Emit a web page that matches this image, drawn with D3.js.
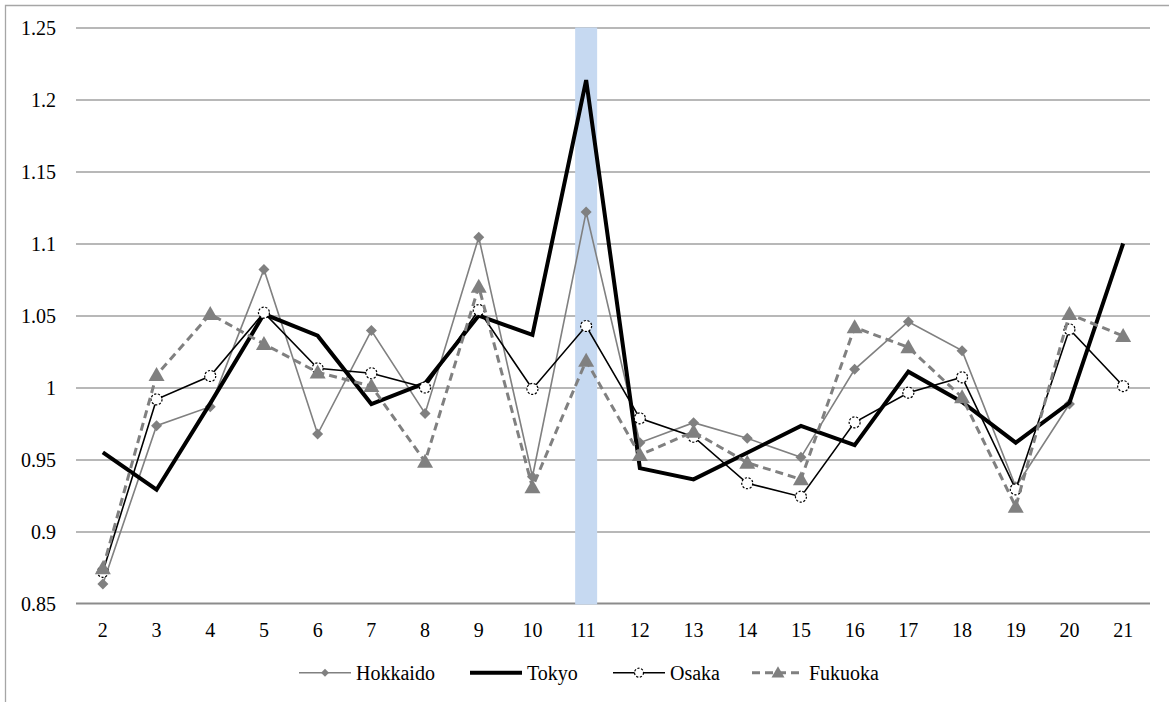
<!DOCTYPE html>
<html>
<head>
<meta charset="utf-8">
<script src="https://cdn.jsdelivr.net/npm/d3@7"></script>
<style>
  html, body { margin: 0; padding: 0; background: #fff; }
  svg { display: block; }
</style>
</head>
<body>
<svg id="chart" width="1169" height="702"></svg>
<script>
// ---- data ----
const categories = ["2","3","4","5","6","7","8","9","10","11","12","13","14","15","16","17","18","19","20","21"];
const hokkaido = [0.8635,0.9735,0.9867,1.082,0.9677,1.0395,0.982,1.1043,0.938,1.1219,0.9617,0.9756,0.9647,0.9515,1.0126,1.0457,1.0256,0.931,0.9885,null];
const tokyo    = [0.955,0.929,0.989,1.051,1.036,0.9885,1.003,1.050,1.0365,1.2135,0.944,0.9362,0.9547,0.9733,0.960,1.011,0.990,0.9617,0.9894,1.100];
const osaka    = [0.872,0.9918,1.008,1.052,1.0133,1.0099,1.000,1.0538,0.999,1.0427,0.9786,0.9658,0.9335,0.9242,0.9758,0.9964,1.0071,0.9293,1.0404,1.001];
const fukuoka  = [0.8744,1.0087,1.051,1.0302,1.0105,1.001,0.9485,1.070,0.9307,1.0186,0.9531,0.9693,0.9478,0.9362,1.0418,1.0279,0.9932,0.9172,1.051,1.0358];
const seriesNames = ["Hokkaido","Tokyo","Osaka","Fukuoka"];
const yTicks = [0.85,0.9,0.95,1,1.05,1.1,1.15,1.2,1.25];
const yTickLabels = ["0.85","0.9","0.95","1","1.05","1.1","1.15","1.2","1.25"];
const highlightCats = ["11"];

// ---- layout ----
const FONT = "Liberation Serif";
const svg = d3.select("#chart").attr("font-family", FONT).attr("font-size", 20);
const plotL = 76, plotR = 1150, plotT = 27.5, plotB = 603.5;

const x = d3.scaleBand().domain(categories).range([plotL, plotR]).padding(0);
const y = d3.scaleLinear().domain([0.85, 1.25]).range([plotB, plotT]);
const cx = c => x(c) + x.bandwidth() / 2;

// outer chart border (left and top visible)
svg.append("path")
  .attr("d", `M5.5,702 L5.5,5.5 L1169,5.5`)
  .attr("fill", "none").attr("stroke", "#a6a6a6").attr("stroke-width", 1.3);

// gridlines
const grid = svg.append("g").attr("transform", `translate(${plotL},0)`)
  .call(d3.axisLeft(y).tickValues(yTicks.filter(v => v !== 0.85)).tickSize(-(plotR - plotL)).tickFormat(""));
grid.select(".domain").remove();
grid.selectAll("line").attr("stroke", "#a0a0a0").attr("stroke-width", 1.4);

// bottom axis line
svg.append("line").attr("x1", plotL).attr("x2", plotR).attr("y1", y(0.85)).attr("y2", y(0.85))
  .attr("stroke", "#8c8c8c").attr("stroke-width", 2);

// highlight band
svg.selectAll("rect.hl").data(highlightCats).enter().append("rect")
  .attr("class", "hl")
  .attr("x", d => cx(d) - 11).attr("width", 22)
  .attr("y", y(1.25)).attr("height", y(0.85) - y(1.25) + 1)
  .attr("fill", "#c6d9f1");

// y axis labels
const yAxis = svg.append("g").attr("transform", `translate(${plotL},0)`)
  .call(d3.axisLeft(y).tickValues(yTicks).tickSize(0).tickPadding(20)
    .tickFormat(d => yTickLabels[yTicks.indexOf(d)]));
yAxis.select(".domain").remove();
yAxis.attr("font-family", FONT).attr("font-size", 20);
yAxis.selectAll("text").attr("dy", "0.34em").attr("fill", "#000")
  .attr("font-family", FONT).attr("font-size", 20);

// x axis labels
const xAxis = svg.append("g").attr("transform", `translate(0,${plotB})`)
  .call(d3.axisBottom(x).tickSize(0).tickPadding(19.5));
xAxis.select(".domain").remove();
xAxis.attr("font-family", FONT).attr("font-size", 20);
xAxis.selectAll("text").attr("fill", "#000").attr("font-family", FONT).attr("font-size", 20);

// ---- marker shapes ----
function diamond(g, s) {
  return g.append("path").attr("d", `M0,${-s} L${s},0 L0,${s} L${-s},0 Z`).attr("fill", "#808080");
}
function triangle(g, s) {
  return g.append("path").attr("d", `M0,${-s} L${s},${s*0.75} L${-s},${s*0.75} Z`).attr("fill", "#808080");
}
function circle(g, r) {
  return g.append("circle").attr("r", r).attr("fill", "#fff").attr("stroke", "#000")
    .attr("stroke-width", 1.2).attr("stroke-dasharray", "2.2,1.6");
}

const styles = {
  Hokkaido: { data: hokkaido, stroke: "#808080", width: 1.6, dash: null, marker: (g) => diamond(g, 5.5), lmarker: (g) => diamond(g, 4) },
  Tokyo:    { data: tokyo,    stroke: "#000000", width: 4,   dash: null, marker: null, lmarker: null },
  Osaka:    { data: osaka,    stroke: "#000000", width: 1.6, dash: null, marker: (g) => circle(g, 5.5), lmarker: (g) => circle(g, 4.5) },
  Fukuoka:  { data: fukuoka,  stroke: "#808080", width: 3,   dash: "8,5", marker: (g) => triangle(g, 8), lmarker: (g) => triangle(g, 6.5) }
};

const line = d3.line().defined(d => d.v != null).x(d => cx(d.c)).y(d => y(d.v));

seriesNames.forEach(name => {
  const st = styles[name];
  const pts = categories.map((c, i) => ({ c, v: st.data[i] }));
  const g = svg.append("g");
  g.append("path").datum(pts).attr("d", line)
    .attr("fill", "none").attr("stroke", st.stroke).attr("stroke-width", st.width)
    .attr("stroke-linejoin", "miter").attr("stroke-dasharray", st.dash);
  if (st.marker) {
    pts.filter(p => p.v != null).forEach(p => {
      const mg = g.append("g").attr("transform", `translate(${cx(p.c)},${y(p.v)})`);
      st.marker(mg);
    });
  }
});

// ---- legend ----
const legendX = [299, 470, 613, 752];
const legendY = 672.7;
const legendLen = 52;
seriesNames.forEach((name, i) => {
  const st = styles[name];
  const g = svg.append("g").attr("transform", `translate(${legendX[i]},${legendY})`);
  g.append("line").attr("x1", 0).attr("x2", legendLen).attr("y1", 0).attr("y2", 0)
    .attr("stroke", st.stroke).attr("stroke-width", st.width).attr("stroke-dasharray", st.dash);
  if (st.lmarker) {
    const mg = g.append("g").attr("transform", `translate(${legendLen / 2},0)`);
    st.lmarker(mg);
  }
  g.append("text").attr("x", legendLen + 5).attr("y", 0).attr("dy", "0.34em")
    .attr("fill", "#000").attr("font-family", FONT).attr("font-size", 20).text(name);
});
</script>
</body>
</html>
